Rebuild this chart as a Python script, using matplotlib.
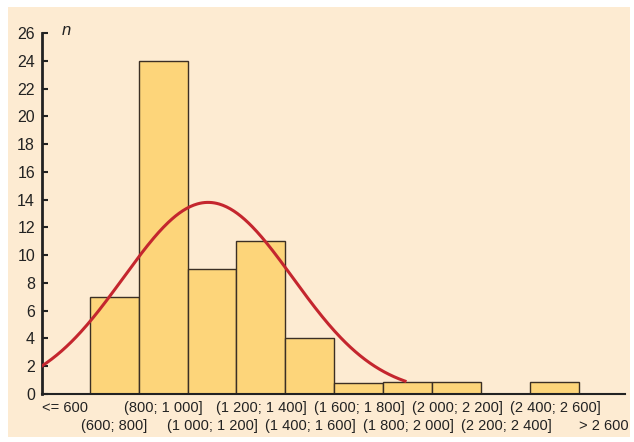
import numpy as np
import matplotlib
matplotlib.use("Agg")
import matplotlib.pyplot as plt

plt.rcParams['font.family'] = ['Liberation Sans Narrow', 'Liberation Sans', 'DejaVu Sans']

categories = ['<= 600', '(600; 800]', '(800; 1 000]', '(1 000; 1 200]', '(1 200; 1 400]',
              '(1 400; 1 600]', '(1 600; 1 800]', '(1 800; 2 000]', '(2 000; 2 200]',
              '(2 200; 2 400]', '(2 400; 2 600]', '> 2 600']
counts = [0, 7, 24, 9, 11, 4, 0.8, 0.9, 0.9, 0, 0.9, 0]
# fitted normal curve (in category index units)
fit_mu = 2.92
fit_sigma = 1.73
fit_peak = 13.8
y_ticks = list(range(0, 27, 2))

bg = '#fdebd2'
bar_col = '#fdd57a'
edge_col = '#3b2f24'
curve_col = '#c4262e'

fig = plt.figure(figsize=(6.34, 4.42), dpi=100)
bgax = fig.add_axes([8 / 634, 5 / 442, 622 / 634, 430 / 442], zorder=0)
bgax.set_facecolor(bg)
bgax.set_xticks([])
bgax.set_yticks([])
for s in bgax.spines.values():
    s.set_visible(False)

ax = fig.add_axes([42 / 634, 1 - 394 / 442, 583 / 634, 361 / 442], zorder=1)
ax.patch.set_alpha(0)

x = np.arange(len(categories))
ax.bar(x, counts, width=1.0, color=bar_col, edgecolor=edge_col, linewidth=1.0, zorder=2)

xs = np.linspace(-0.47, 6.94, 300)
ys = fit_peak * np.exp(-(xs - fit_mu) ** 2 / (2 * fit_sigma ** 2))
ax.plot(xs, ys, color=curve_col, lw=2.2, zorder=3)

ax.set_xlim(-0.47, 11.43)
ax.set_ylim(0, 26)
ax.set_yticks(y_ticks)
ax.tick_params(axis='y', direction='in', length=4, width=1.5, labelsize=11.5, pad=5, colors='#222222')
ax.set_xticks([])
for s in ['top', 'right']:
    ax.spines[s].set_visible(False)
ax.spines['left'].set_linewidth(2)
ax.spines['bottom'].set_linewidth(1.5)
ax.spines['left'].set_color('#222222')
ax.spines['bottom'].set_color('#222222')

for i, lab in enumerate(categories):
    yoff = -0.04 if i % 2 == 0 else -0.088
    ax.text(i, yoff, lab, transform=ax.get_xaxis_transform(), ha='center', va='center',
            fontsize=10.5, color='#222222')

ax.text(0.034, 1.008, 'n', transform=ax.transAxes, fontsize=12, style='italic',
        ha='left', va='center', color='#222222')

fig.savefig('out.png', dpi=100)
